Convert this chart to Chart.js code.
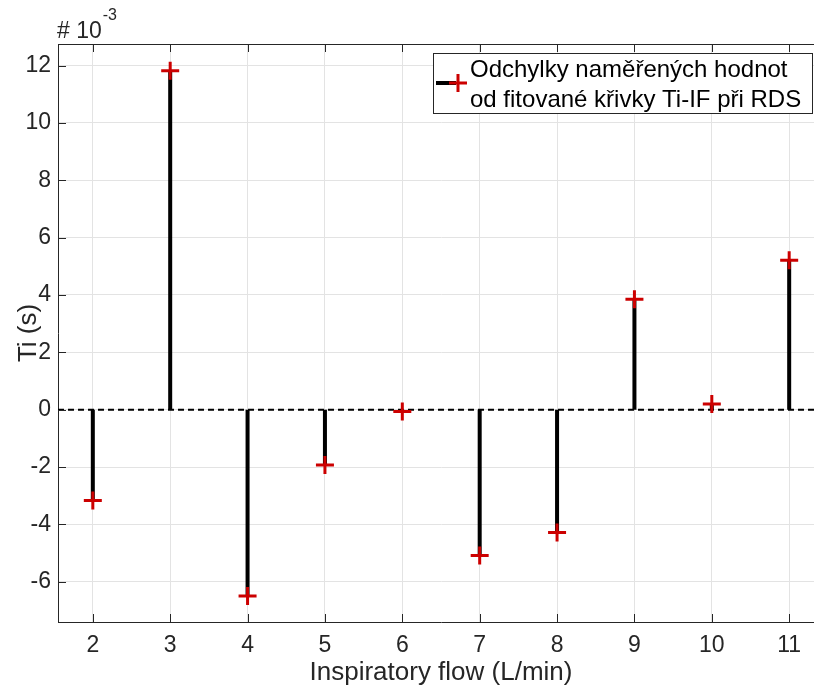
<!DOCTYPE html>
<html>
<head>
<meta charset="utf-8">
<script src="https://cdn.jsdelivr.net/npm/chart.js@4.4.0/dist/chart.umd.min.js"></script>
<style>
  html, body { margin: 0; padding: 0; background: #fff; overflow: hidden; }
  #wrap { width: 840px; height: 688px; }
</style>
</head>
<body>
<div id="wrap"><canvas id="stemChart" width="840" height="688"></canvas></div>
<script>
// values in units of 1e-3 s (axis shows "# 10^-3")
const flows = [2, 3, 4, 5, 6, 7, 8, 9, 10, 11];
const tiDeviation = [-3.16, 11.82, -6.49, -1.93, -0.06, -5.08, -4.28, 3.85, 0.2, 5.21];
const xTicks = [2, 3, 4, 5, 6, 7, 8, 9, 10, 11];
const yTicks = [-6, -4, -2, 0, 2, 4, 6, 8, 10, 12];
const legendLines = ["Odchylky naměřených hodnot", "od fitované křivky Ti-IF při RDS"];
const xTitle = "Inspiratory flow (L/min)";
const yTitle = "Ti (s)";

const FONT = '"Liberation Sans", Arial, sans-serif';
const AXIS_COLOR = "#262626";
const RED = "#cc0000";

// stems: 0 -> value, null between them so the line breaks
const stemPoints = [];
flows.forEach((f, i) => {
    stemPoints.push({ x: f, y: 0 });
    stemPoints.push({ x: f, y: tiDeviation[i] });
    stemPoints.push({ x: f, y: null });
});
const markerPoints = flows.map((f, i) => ({ x: f, y: tiDeviation[i] }));

const decorations = {
    id: "decorations",
    beforeDatasetsDraw(chart) {
        const { ctx, chartArea: a, scales } = chart;
        // dashed baseline at zero
        const y0 = scales.y.getPixelForValue(0);
        ctx.save();
        ctx.strokeStyle = "#000";
        ctx.lineWidth = 2;
        ctx.setLineDash([6, 4]);
        ctx.beginPath();
        ctx.moveTo(a.left, y0);
        ctx.lineTo(a.right, y0);
        ctx.stroke();
        ctx.restore();
    },
    afterDraw(chart) {
        const { ctx, chartArea: a, scales } = chart;
        ctx.save();
        // top border of the box
        ctx.strokeStyle = AXIS_COLOR;
        ctx.lineWidth = 1;
        ctx.beginPath();
        ctx.moveTo(a.left, a.top + 0.5);
        ctx.lineTo(a.right, a.top + 0.5);
        ctx.stroke();

        // inward tick marks
        const tl = 8;
        ctx.beginPath();
        xTicks.forEach(v => {
            const x = Math.round(scales.x.getPixelForValue(v)) + 0.5;
            ctx.moveTo(x, a.bottom); ctx.lineTo(x, a.bottom - tl);
            ctx.moveTo(x, a.top); ctx.lineTo(x, a.top + tl);
        });
        yTicks.forEach(v => {
            const y = Math.round(scales.y.getPixelForValue(v)) + 0.5;
            ctx.moveTo(a.left, y); ctx.lineTo(a.left + tl, y);
        });
        ctx.stroke();

        // exponent label
        ctx.fillStyle = AXIS_COLOR;
        ctx.textAlign = "left";
        ctx.textBaseline = "alphabetic";
        ctx.font = `23px ${FONT}`;
        ctx.fillText("# 10", a.left - 1, 38);
        const w = ctx.measureText("# 10").width;
        ctx.font = `16px ${FONT}`;
        ctx.fillText("-3", a.left - 1 + w + 1, 20);

        // axis titles
        ctx.font = `26px ${FONT}`;
        ctx.textAlign = "center";
        ctx.fillText(xTitle, (a.left + a.right) / 2, 680);
        ctx.save();
        ctx.translate(36, (a.top + a.bottom) / 2);
        ctx.rotate(-Math.PI / 2);
        ctx.fillText(yTitle, 0, 0);
        ctx.restore();

        // legend
        const bx = 433.5, by = 53.5, bw = 379, bh = 60;
        ctx.fillStyle = "#fff";
        ctx.fillRect(bx, by, bw, bh);
        ctx.strokeStyle = AXIS_COLOR;
        ctx.lineWidth = 1;
        ctx.strokeRect(bx, by, bw, bh);
        const iy = 83;
        ctx.strokeStyle = "#000";
        ctx.lineWidth = 4;
        ctx.beginPath();
        ctx.moveTo(436, iy); ctx.lineTo(456, iy);
        ctx.stroke();
        ctx.strokeStyle = RED;
        ctx.lineWidth = 3;
        ctx.beginPath();
        ctx.moveTo(449, iy); ctx.lineTo(467, iy);
        ctx.moveTo(458, iy - 9); ctx.lineTo(458, iy + 9);
        ctx.stroke();
        ctx.fillStyle = "#000";
        ctx.font = `24px ${FONT}`;
        ctx.textAlign = "left";
        ctx.fillText(legendLines[0], 470, 77);
        ctx.fillText(legendLines[1], 470, 107);
        ctx.restore();
    }
};

const ctx = document.getElementById("stemChart").getContext("2d");
new Chart(ctx, {
    type: "scatter",
    data: {
        datasets: [
            {
                label: "markers",
                data: markerPoints,
                showLine: false,
                pointStyle: "cross",
                pointRadius: 9,
                pointHoverRadius: 9,
                pointBorderWidth: 3,
                borderColor: RED,
                backgroundColor: RED,
            },
            {
                label: "stems",
                data: stemPoints,
                showLine: true,
                spanGaps: false,
                pointRadius: 0,
                borderColor: "#000",
                borderWidth: 4,
                borderCapStyle: "butt",
            },
        ],
    },
    plugins: [decorations],
    options: {
        responsive: false,
        animation: false,
        devicePixelRatio: 1,
        layout: { padding: { top: 44, right: 16, bottom: 0, left: 0 } },
        plugins: {
            legend: { display: false },
            tooltip: { enabled: false },
        },
        scales: {
            x: {
                type: "linear",
                min: 1.55,
                max: 11.45,
                afterBuildTicks: scale => { scale.ticks = xTicks.map(v => ({ value: v })); },
                afterFit: scale => { scale.height = 66; },
                grid: { color: "#e3e3e3", drawTicks: false },
                border: { color: AXIS_COLOR, width: 1 },
                ticks: {
                    padding: 10,
                    color: AXIS_COLOR,
                    font: { family: FONT, size: 23 },
                },
            },
            y: {
                type: "linear",
                min: -7.4,
                max: 12.75,
                afterBuildTicks: scale => { scale.ticks = yTicks.map(v => ({ value: v })); },
                afterFit: scale => { scale.width = 58; },
                grid: { color: "#e3e3e3", drawTicks: false },
                border: { color: AXIS_COLOR, width: 1 },
                ticks: {
                    padding: 7,
                    color: AXIS_COLOR,
                    font: { family: FONT, size: 23 },
                },
            },
        },
    },
});
</script>
</body>
</html>
